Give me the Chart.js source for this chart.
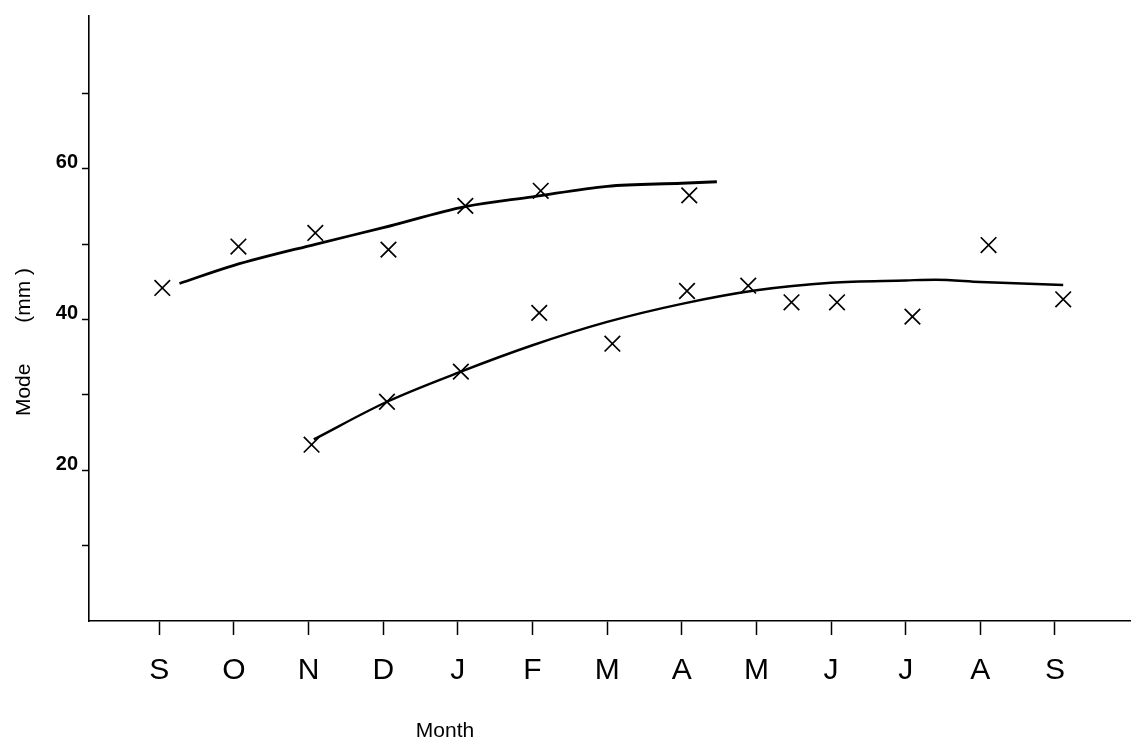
<!DOCTYPE html>
<html>
<head>
<meta charset="utf-8">
<script src="https://cdn.jsdelivr.net/npm/chart.js@4/dist/chart.umd.min.js"></script>
<style>
  html, body { margin: 0; padding: 0; background: #fff; }
  #wrap { width: 1145px; height: 749px; }
</style>
</head>
<body>
<div id="wrap"><canvas id="c" width="1145" height="749"></canvas></div>
<script>
// ---- data ----
const monthLabels = ['S','O','N','D','J','F','M','A','M','J','J','A','S'];
const monthTicks  = [0,1,2,3,4,5,6,7,8,9,10,11,12];
const yTickValues = [10,20,30,40,50,60,70];
const yTickLabels = ['', '20', '', '40', '', '60', ''];

// upper group: observed modes
const upperX = [0.04, 1.06, 2.09, 3.07, 4.10, 5.11, 7.10];
const upperY = [44.2, 49.7, 51.5, 49.3, 55.1, 57.1, 56.5];
// lower group: observed modes
const lowerX = [2.04, 3.05, 4.04, 5.09, 6.07, 7.07, 7.89, 8.47, 9.08, 10.09, 11.11, 12.11];
const lowerY = [23.4, 29.1, 33.1, 40.9, 36.8, 43.8, 44.5, 42.3, 42.3, 40.4, 49.9, 42.7];

// fitted growth curves
const upperFitX = [0.27, 1.0, 2.09, 3.0, 4.1, 5.0, 6.0, 7.0, 7.47];
const upperFitY = [44.8, 47.2, 50.0, 52.2, 55.0, 56.3, 57.7, 58.1, 58.3];
const lowerFitX = [2.07, 3.05, 4.04, 5.0, 6.0, 7.0, 8.0, 9.0, 10.0, 10.4, 11.0, 12.11];
const lowerFitY = [24.1, 29.1, 33.1, 36.6, 39.7, 42.1, 43.9, 44.9, 45.2, 45.3, 45.0, 44.6];

const xTitle = 'Month';
const yTitle = 'Mode       (mm )';

// ---- build ----
const zip = (xs, ys) => xs.map((x, i) => ({ x: x, y: ys[i] }));

const titlesPlugin = {
  id: 'axisTitles',
  afterDraw(chart) {
    const ctx = chart.ctx;
    ctx.save();
    ctx.fillStyle = '#000';
    ctx.font = '21px "Liberation Sans", Arial, sans-serif';
    ctx.textAlign = 'center';
    ctx.textBaseline = 'alphabetic';
    ctx.fillText(xTitle, 445, 737);
    ctx.translate(30, 342);
    ctx.rotate(-Math.PI / 2);
    ctx.fillText(yTitle, 0, 0);
    ctx.restore();
  }
};

const lineStyle = (w) => ({
  showLine: true, borderColor: '#000', borderWidth: w, pointRadius: 0,
  pointHoverRadius: 0, fill: false, cubicInterpolationMode: 'monotone'
});
const markStyle = {
  showLine: false, pointStyle: 'crossRot', pointRadius: 11, pointBorderWidth: 1.7,
  pointBorderColor: '#000', pointBackgroundColor: '#000', borderColor: '#000'
};

new Chart(document.getElementById('c'), {
  type: 'scatter',
  data: {
    datasets: [
      Object.assign({ label: 'upper fit', data: zip(upperFitX, upperFitY) }, lineStyle(2.8)),
      Object.assign({ label: 'lower fit', data: zip(lowerFitX, lowerFitY) }, lineStyle(2.4)),
      Object.assign({ label: 'upper', data: zip(upperX, upperY) }, markStyle),
      Object.assign({ label: 'lower', data: zip(lowerX, lowerY) }, markStyle)
    ]
  },
  options: {
    responsive: false,
    animation: false,
    layout: { padding: { top: 12, right: 15, left: 0, bottom: 0 } },
    plugins: { legend: { display: false }, tooltip: { enabled: false } },
    scales: {
      x: {
        type: 'linear',
        min: -0.942, max: 13.005,
        afterBuildTicks: (s) => { s.ticks = monthTicks.map(v => ({ value: v })); },
        afterFit: (s) => { s.height = 128; },
        grid: { display: true, drawOnChartArea: false, drawTicks: true, tickLength: 14,
                tickWidth: 1.5, tickColor: '#000' },
        border: { display: true, color: '#000', width: 1.6 },
        ticks: {
          autoSkip: false, maxRotation: 0, padding: 18, color: '#000',
          font: { family: '"Liberation Sans", Arial, sans-serif', size: 30 },
          callback: (v) => { const i = monthTicks.indexOf(v); return i >= 0 ? monthLabels[i] : ''; }
        }
      },
      y: {
        type: 'linear',
        min: 0, max: 80.3,
        afterBuildTicks: (s) => { s.ticks = yTickValues.map(v => ({ value: v })); },
        afterFit: (s) => { s.width = 89; },
        grid: { display: true, drawOnChartArea: false, drawTicks: true, tickLength: 7,
                tickWidth: 1.5, tickColor: '#000' },
        border: { display: true, color: '#000', width: 1.6 },
        ticks: {
          autoSkip: false, padding: 4, labelOffset: -6, color: '#000',
          font: { family: '"Liberation Sans", Arial, sans-serif', size: 20, weight: 'bold' },
          callback: (v) => { const i = yTickValues.indexOf(v); return i >= 0 ? yTickLabels[i] : ''; }
        }
      }
    }
  },
  plugins: [titlesPlugin]
});
</script>
</body>
</html>
